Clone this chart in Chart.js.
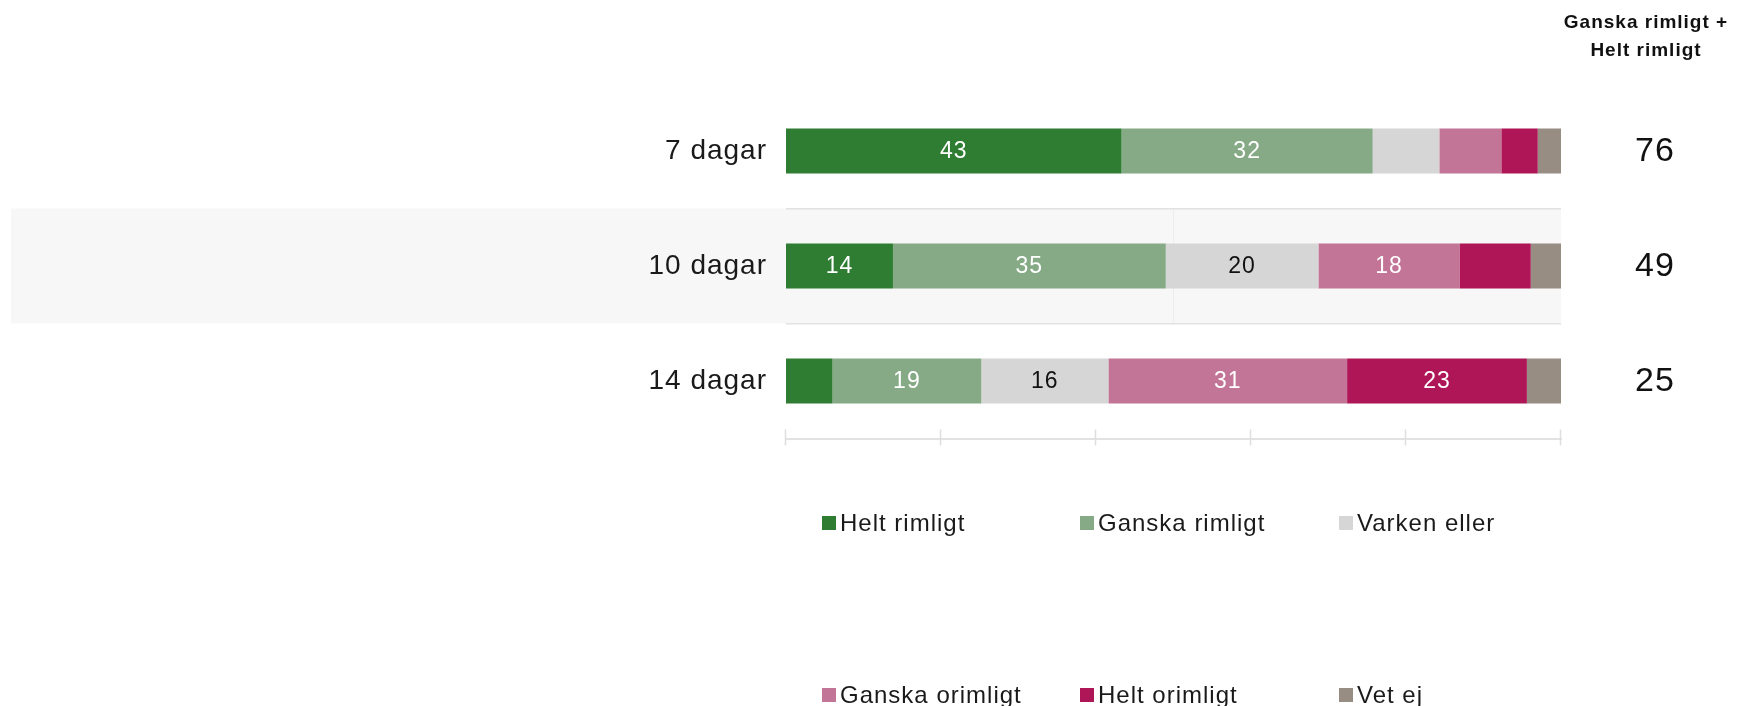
<!DOCTYPE html>
<html>
<head>
<meta charset="utf-8">
<script src="https://cdn.jsdelivr.net/npm/chart.js@4"></script>
<style>
    html, body { margin: 0; padding: 0; background: #ffffff; }
    #wrap { width: 1739px; height: 706px; position: relative; }
</style>
</head>
<body>
<div id="wrap"><canvas id="chart" width="1739" height="706"></canvas></div>
<script>
// Data
const categories = ['7 dagar', '10 dagar', '14 dagar'];
const seriesNames = ['Helt rimligt', 'Ganska rimligt', 'Varken eller', 'Ganska orimligt', 'Helt orimligt', 'Vet ej'];
const seriesColors = ['#2e7d32', '#85aa85', '#d6d6d6', '#c27596', '#ae1657', '#978d83'];
const heltRimligt = [43.3, 13.8, 6.0];
const ganskaRimligt = [32.4, 35.2, 19.2];
const varkenEller = [8.6, 19.7, 16.4];
const ganskaOrimligt = [8.0, 18.2, 30.8];
const heltOrimligt = [4.7, 9.2, 23.2];
const vetEj = [3.0, 3.9, 4.4];
const xTicks = [0, 20, 40, 60, 80, 100];
const totalTitle = ['Ganska rimligt +', 'Helt rimligt'];

const FONT = '"Liberation Sans", Arial, sans-serif';
const seriesValues = [heltRimligt, ganskaRimligt, varkenEller, ganskaOrimligt, heltOrimligt, vetEj];
const totals = categories.map((c, i) => Math.round(heltRimligt[i] + ganskaRimligt[i]));

// grå bakgrund bakom mittenraden + tunn linje vid 50
const bandPlugin = {
    id: 'band',
    beforeDraw(chart) {
        const ctx = chart.ctx;
        const y = chart.scales.y, x = chart.scales.x;
        ctx.letterSpacing = '1px';
        const top = y.getPixelForValue(0.5), bottom = y.getPixelForValue(1.5);
        ctx.save();
        ctx.fillStyle = '#f7f7f7';
        ctx.fillRect(11, top, chart.chartArea.right - 11, bottom - top);
        const mid = x.getPixelForValue(50);
        ctx.strokeStyle = '#ededed';
        ctx.lineWidth = 1;
        ctx.beginPath();
        ctx.moveTo(mid, top);
        ctx.lineTo(mid, bottom);
        ctx.stroke();
        ctx.restore();
    }
};

// siffror i staplarna, totaler, rubrik, ticks och legend
const labelsPlugin = {
    id: 'labels',
    afterDatasetsDraw(chart) {
        const ctx = chart.ctx;
        ctx.save();
        ctx.letterSpacing = '1px';
        ctx.font = '23px ' + FONT;
        ctx.textAlign = 'center';
        ctx.textBaseline = 'middle';
        chart.data.datasets.forEach((ds, di) => {
            const meta = chart.getDatasetMeta(di);
            meta.data.forEach((bar, i) => {
                const v = ds.data[i];
                if (v < 10) return;
                const p = bar.getProps(['x', 'y', 'base'], true);
                ctx.fillStyle = di === 2 ? '#111111' : '#ffffff';
                ctx.fillText(Math.round(v), (p.x + p.base) / 2, p.y + 1);
            });
        });
        ctx.restore();
    },
    afterDraw(chart) {
        const ctx = chart.ctx;
        const x = chart.scales.x, y = chart.scales.y;
        const area = chart.chartArea;
        ctx.save();
        ctx.letterSpacing = '1px';

        // ticks på x-axeln
        ctx.strokeStyle = '#dedede';
        ctx.lineWidth = 1.5;
        xTicks.forEach(t => {
            const px = Math.round(x.getPixelForValue(t)) - 0.5;
            ctx.beginPath();
            ctx.moveTo(px, area.bottom - 9);
            ctx.lineTo(px, area.bottom + 7);
            ctx.stroke();
        });

        // totaler
        ctx.fillStyle = '#111111';
        ctx.font = '34px ' + FONT;
        ctx.textAlign = 'center';
        ctx.textBaseline = 'middle';
        totals.forEach((t, i) => {
            ctx.fillText(t, 1655, y.getPixelForValue(i) + 1);
        });

        // rubrik
        ctx.font = 'bold 19px ' + FONT;
        ctx.fillText(totalTitle[0], 1646, 23);
        ctx.fillText(totalTitle[1], 1646, 51);

        // legend
        const colX = [822, 1080, 1339];
        const rowY = [523, 695];
        ctx.font = '24px ' + FONT;
        ctx.textAlign = 'left';
        seriesNames.forEach((name, i) => {
            const cx = colX[i % 3], cy = rowY[Math.floor(i / 3)];
            ctx.fillStyle = seriesColors[i];
            ctx.fillRect(cx, cy - 7, 14, 14);
            ctx.fillStyle = '#1a1a1a';
            ctx.fillText(name, cx + 18, cy + 1);
        });
        ctx.restore();
    }
};

new Chart(document.getElementById('chart'), {
    type: 'bar',
    data: {
        labels: categories,
        datasets: seriesNames.map((name, i) => ({
            label: name,
            data: seriesValues[i],
            backgroundColor: seriesColors[i],
            borderWidth: 0,
            barPercentage: 0.39,
            categoryPercentage: 1
        }))
    },
    options: {
        indexAxis: 'y',
        responsive: false,
        devicePixelRatio: 1,
        animation: false,
        layout: { padding: { left: 0, right: 178, top: 93.5, bottom: 267.5 } },
        scales: {
            x: {
                stacked: true,
                min: 0,
                max: 100,
                ticks: { display: false, stepSize: 20 },
                grid: { display: false },
                border: { display: true, color: '#e2e2e2', width: 2 },
                afterFit: s => { s.height = 0; }
            },
            y: {
                stacked: true,
                grid: {
                    offset: true,
                    drawTicks: false,
                    lineWidth: 1.5,
                    color: c => (c.index === 1 || c.index === 2) ? '#e2e2e2' : 'rgba(0,0,0,0)'
                },
                border: { display: false },
                ticks: { color: '#1a1a1a', font: { family: FONT, size: 28 }, padding: 19 },
                afterFit: s => { s.width = 786; }
            }
        },
        plugins: {
            legend: { display: false },
            tooltip: { enabled: false }
        }
    },
    plugins: [bandPlugin, labelsPlugin]
});
</script>
</body>
</html>
